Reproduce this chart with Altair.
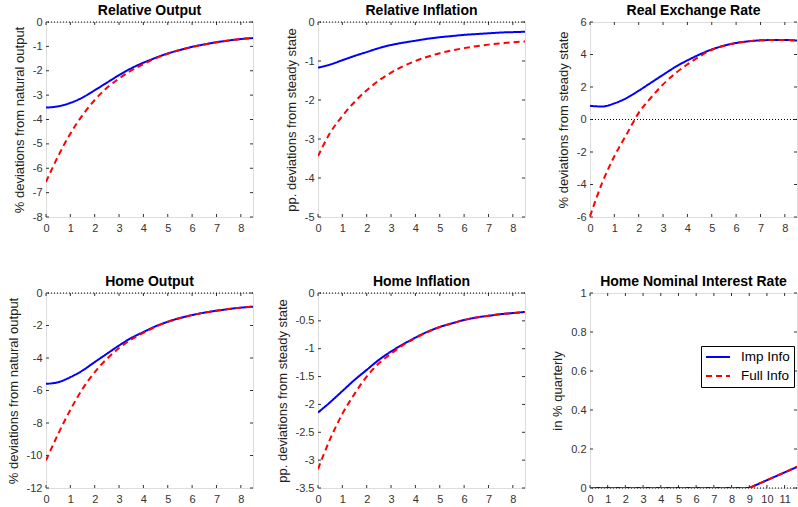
import altair as alt
import pandas as pd

FONT = "Liberation Sans"
AX = "#333333"
FRAME = "#666666"
W, H = 207, 195

# horizon (x values) for the first five panels
T = [0, 0.5, 1, 1.5, 2, 2.5, 3, 3.5, 4, 4.5, 5, 5.5, 6, 6.5, 7, 7.5, 8, 8.5]

rel_out_imp = [-3.51, -3.46, -3.32, -3.10, -2.80, -2.49, -2.18, -1.90, -1.67, -1.47, -1.29, -1.15, -1.02, -0.92, -0.83, -0.76, -0.70, -0.66]
rel_out_full = [-6.56, -5.50, -4.58, -3.82, -3.20, -2.70, -2.32, -1.99, -1.73, -1.49, -1.30, -1.15, -1.02, -0.92, -0.83, -0.76, -0.70, -0.66]

rel_inf_imp = [-1.17, -1.09, -0.98, -0.87, -0.77, -0.67, -0.59, -0.53, -0.48, -0.43, -0.39, -0.36, -0.33, -0.31, -0.29, -0.27, -0.26, -0.25]
rel_inf_full = [-3.44, -2.84, -2.41, -2.05, -1.75, -1.50, -1.30, -1.13, -1.00, -0.89, -0.80, -0.73, -0.67, -0.62, -0.58, -0.55, -0.52, -0.50]

rer_imp = [0.84, 0.80, 0.99, 1.32, 1.77, 2.26, 2.75, 3.23, 3.64, 4.00, 4.31, 4.54, 4.71, 4.81, 4.87, 4.89, 4.89, 4.86]
rer_full = [-5.96, -3.90, -2.26, -0.92, 0.41, 1.34, 2.16, 2.84, 3.39, 3.88, 4.29, 4.54, 4.71, 4.81, 4.87, 4.89, 4.89, 4.86]

home_out_imp = [-5.59, -5.49, -5.18, -4.77, -4.25, -3.74, -3.23, -2.77, -2.40, -2.05, -1.77, -1.54, -1.36, -1.21, -1.09, -0.99, -0.90, -0.84]
home_out_full = [-10.3, -8.67, -7.19, -5.90, -4.87, -4.05, -3.39, -2.86, -2.45, -2.08, -1.78, -1.54, -1.36, -1.21, -1.09, -0.99, -0.90, -0.84]

home_inf_imp = [-2.145, -1.96, -1.76, -1.56, -1.38, -1.20, -1.05, -0.92, -0.80, -0.695, -0.61, -0.545, -0.485, -0.44, -0.41, -0.38, -0.36, -0.34]
home_inf_full = [-3.16, -2.62, -2.17, -1.81, -1.50, -1.26, -1.09, -0.93, -0.81, -0.70, -0.61, -0.545, -0.485, -0.44, -0.41, -0.38, -0.36, -0.34]

# interest rate panel (quarters)
T_R = [0, 1, 2, 3, 4, 5, 6, 7, 8, 9, 10, 11, 12]
rate_imp = [0, 0, 0, 0, 0, 0, 0, 0, 0, 0, 0.04, 0.08, 0.12]
rate_full = [0, 0, 0, 0, 0, 0, 0, 0, 0, 0, 0.04, 0.08, 0.12]

XT8 = [0, 1, 2, 3, 4, 5, 6, 7, 8]
XT11 = [0, 1, 2, 3, 4, 5, 6, 7, 8, 9, 10, 11]

SERIES = ["Imp Info", "Full Info"]
COLORS = ["#0000ff", "#ff0000"]
DASHES = [[1, 0], [6, 4]]


def panel(title, ytitle, t, imp, full, ydom, yticks, xdom, xticks, legend=False):
    xs = alt.Scale(domain=xdom, nice=False, zero=False)
    ys = alt.Scale(domain=ydom, nice=False, zero=False)
    n = len(t)
    df = pd.DataFrame({"t": list(t) * 2, "v": list(imp) + list(full),
                       "series": [SERIES[0]] * n + [SERIES[1]] * n})
    xax = alt.Axis(values=xticks, labelExpr="'' + datum.value", ticks=False, domain=False,
                   grid=False, labelPadding=5, labelFontSize=11, labelColor=AX,
                   labelFont=FONT, title=None, labelFlush=False)
    yax = alt.Axis(values=yticks, labelExpr="'' + datum.value", ticks=False, domain=False,
                   grid=False, labelPadding=4, labelFontSize=11, labelColor=AX,
                   labelFont=FONT, title=ytitle, titleFontSize=13, titleFontWeight="normal",
                   titleFont=FONT, titleColor="#222222", titlePadding=6, labelFlush=False)
    X = lambda f: alt.X(f, scale=xs, axis=xax)
    Y = lambda f: alt.Y(f, scale=ys, axis=yax)
    base = alt.Chart(df)
    layers = []

    ydf = pd.DataFrame({"t": [xdom[0]] * len(yticks), "v": yticks})
    xdf = pd.DataFrame({"t": xticks, "v": [ydom[0]] * len(xticks)})
    layers.append(alt.Chart(ydf).mark_rule(color=AX, strokeWidth=1).encode(
        y=Y("v:Q"), x=alt.value(0), x2=alt.value(3)))
    layers.append(alt.Chart(ydf).mark_rule(color=AX, strokeWidth=1).encode(
        y=Y("v:Q"), x=alt.value(W - 3), x2=alt.value(W)))
    layers.append(alt.Chart(xdf).mark_rule(color=AX, strokeWidth=1).encode(
        x=X("t:Q"), y=alt.value(H - 3), y2=alt.value(H)))
    layers.append(alt.Chart(xdf).mark_rule(color=AX, strokeWidth=1).encode(
        x=X("t:Q"), y=alt.value(0), y2=alt.value(3)))
    # dotted zero line
    layers.append(alt.Chart(pd.DataFrame({"t": [xdom[0]], "v": [0]})).mark_rule(
        color="black", strokeDash=[1, 2], strokeWidth=1).encode(y=Y("v:Q")))

    if legend:
        lg = alt.Legend(orient="none", legendX=655, legendY=324, title=None,
                        symbolType="M-2,0H2", symbolSize=144, symbolStrokeWidth=2,
                        symbolOffset=6, labelOffset=16,
                        labelFontSize=13.5, labelFont=FONT, labelColor="black",
                        strokeColor="black", fillColor="white", padding=4,
                        rowPadding=5)
        color = alt.Color("series:N", scale=alt.Scale(domain=SERIES, range=COLORS), legend=lg)
        dash = alt.StrokeDash("series:N", scale=alt.Scale(domain=SERIES, range=DASHES), legend=lg)
        enc_imp = dict(color=color, strokeDash=dash)
        enc_full = dict(color=color, strokeDash=dash)
    else:
        enc_imp = dict(color=alt.value(COLORS[0]), strokeDash=alt.value(DASHES[0]))
        enc_full = dict(color=alt.value(COLORS[1]), strokeDash=alt.value(DASHES[1]))

    interp = "linear" if legend else "monotone"
    layers.append(base.transform_filter(alt.datum.series == SERIES[0]).mark_line(
        strokeWidth=2, interpolate=interp, clip=True).encode(
        x=X("t:Q"), y=Y("v:Q"), **enc_imp))
    layers.append(base.transform_filter(alt.datum.series == SERIES[1]).mark_line(
        strokeWidth=2, interpolate=interp, clip=True).encode(
        x=X("t:Q"), y=Y("v:Q"), **enc_full))

    return alt.layer(*layers).properties(
        width=W, height=H,
        title=alt.TitleParams(title, font=FONT, fontSize=14, fontWeight="bold",
                              color="black", anchor="middle", offset=-2))


p1 = panel("Relative Output", "% deviations from natural output", T, rel_out_imp, rel_out_full,
           [-8, 0], [-8, -7, -6, -5, -4, -3, -2, -1, 0], [0, 8.5], XT8)
p2 = panel("Relative Inflation", "pp. deviations from steady state", T, rel_inf_imp, rel_inf_full,
           [-5, 0], [-5, -4, -3, -2, -1, 0], [0, 8.5], XT8)
p3 = panel("Real Exchange Rate", "% deviations from steady state", T, rer_imp, rer_full,
           [-6, 6], [-6, -4, -2, 0, 2, 4, 6], [0, 8.5], XT8)
p4 = panel("Home Output", "% deviations from natural output", T, home_out_imp, home_out_full,
           [-12, 0], [-12, -10, -8, -6, -4, -2, 0], [0, 8.5], XT8)
p5 = panel("Home Inflation", "pp. deviations from steady state", T, home_inf_imp, home_inf_full,
           [-3.5, 0], [-3.5, -3, -2.5, -2, -1.5, -1, -0.5, 0], [0, 8.5], XT8)
p6 = panel("Home Nominal Interest Rate", "in % quarterly", T_R, rate_imp, rate_full,
           [0, 1], [0, 0.2, 0.4, 0.6, 0.8, 1], [0, 11.7], XT11, legend=True)

chart = alt.concat(p1, p2, p3, p4, p5, p6, columns=3,
                   spacing={"row": 76, "column": 65}, bounds="flush").configure_view(
    stroke=FRAME, strokeWidth=1).configure(
    padding={"left": 6, "top": 3, "right": 0, "bottom": 0}, background="white")

chart.save("out.html", embed_options={"renderer": "svg", "actions": False})
